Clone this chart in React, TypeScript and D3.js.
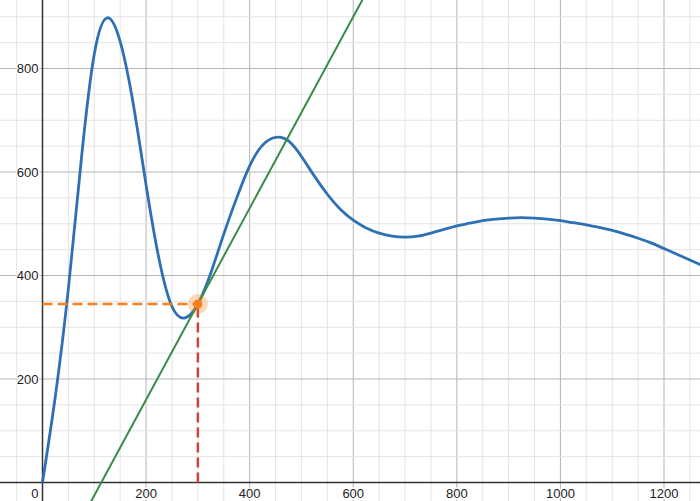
import React from "react";
import * as d3 from "d3";

const curveX = [0, 25, 50, 75, 100, 125, 150, 175, 200, 225, 250, 275, 300, 325, 350, 375, 400, 425, 450, 475, 500, 525, 550, 575, 600, 625, 650, 675, 700, 725, 750, 775, 800, 825, 850, 875, 900, 925, 950, 975, 1000, 1025, 1050, 1075, 1100, 1125, 1150, 1175, 1200, 1225, 1250, 1275];
const curveY = [0, 168, 375, 625, 828, 898, 852, 733, 575, 432, 340, 318, 345, 405, 480, 550, 612, 652, 667, 660, 630, 592, 557, 528, 507, 492, 482, 476, 474, 476, 482, 489, 496, 501, 506, 509, 511, 512, 511, 509, 506, 502, 498, 493, 487, 480, 472, 463, 452, 441, 430, 419];
const xTickLabels = [0, 200, 400, 600, 800, 1000, 1200];
const yTickLabels = [200, 400, 600, 800];
const pointX = [300];
const pointY = [345];
const tangentSlope = [1.85];

const W = 700;
const H = 501;

export default function App() {
  const x = d3.scaleLinear().domain([0, 1200]).range([42.5, 664]);
  const y = d3.scaleLinear().domain([0, 800]).range([482.5, 68.5]);
  const [xmin, xmax] = [x.invert(0), x.invert(W)];
  const [ymin, ymax] = [y.invert(H), y.invert(0)];

  const minorX = d3.range(Math.ceil(xmin / 50) * 50, xmax, 50);
  const minorY = d3.range(Math.ceil(ymin / 50) * 50, ymax, 50);

  const pts: [number, number][] = curveX.map((v, i) => [v, curveY[i]]);
  const line = d3
    .line<[number, number]>()
    .x((d) => x(d[0]))
    .y((d) => y(d[1]))
    .curve(d3.curveNatural);

  const px = pointX[0];
  const py = pointY[0];
  const m = tangentSlope[0];
  const tx0 = xmin;
  const tx1 = xmax;
  const font = "'Liberation Sans', Arial, sans-serif";
  const halo = { paintOrder: "stroke" as const, stroke: "#fff", strokeWidth: 3, strokeLinejoin: "round" as const };

  return (
    <svg width={W} height={H} style={{ position: "absolute", left: 0, top: 0, background: "#fff" }}>
      <rect x={0} y={0} width={W} height={H} fill="#fff" />
      {minorX.map((v) => (
        <line key={"mx" + v} x1={x(v)} x2={x(v)} y1={0} y2={H}
          stroke={v % 200 === 0 ? "#b5b5b5" : "#e4e4e4"} strokeWidth={1} />
      ))}
      {minorY.map((v) => (
        <line key={"my" + v} y1={y(v)} y2={y(v)} x1={0} x2={W}
          stroke={v % 200 === 0 ? "#b5b5b5" : "#e4e4e4"} strokeWidth={1} />
      ))}
      <line x1={x(0)} x2={x(0)} y1={0} y2={H} stroke="#333" strokeWidth={1.5} />
      <line y1={y(0)} y2={y(0)} x1={0} x2={W} stroke="#333" strokeWidth={1.5} />
      {xTickLabels.map((v) => (
        <text key={"xl" + v} x={v === 0 ? x(0) - 4 : x(v)} y={y(0) + 15}
          textAnchor={v === 0 ? "end" : "middle"} fontFamily={font} fontSize={13} fill="#222" style={halo}>
          {v}
        </text>
      ))}
      {yTickLabels.map((v) => (
        <text key={"yl" + v} x={x(0) - 4} y={y(v) + 4.5} textAnchor="end"
          fontFamily={font} fontSize={13} fill="#222" style={halo}>
          {v}
        </text>
      ))}
      <path d={line(pts) || ""} fill="none" stroke="#2d70b3" strokeWidth={2.8} strokeLinejoin="round" />
      <line x1={x(tx0)} y1={y(py + m * (tx0 - px))} x2={x(tx1)} y2={y(py + m * (tx1 - px))}
        stroke="#388c46" strokeWidth={2} />
      <line x1={x(0)} x2={x(px)} y1={y(py)} y2={y(py)} stroke="#fa7e19" strokeWidth={2.5} strokeDasharray="10 5" />
      <line x1={x(px)} x2={x(px)} y1={y(0)} y2={y(py)} stroke="#c74440" strokeWidth={2.5} strokeDasharray="10 5" />
      <circle cx={x(px)} cy={y(py)} r={10} fill="#fa7e19" fillOpacity={0.3} />
      <circle cx={x(px)} cy={y(py)} r={4.5} fill="#fa7e19" />
    </svg>
  );
}
